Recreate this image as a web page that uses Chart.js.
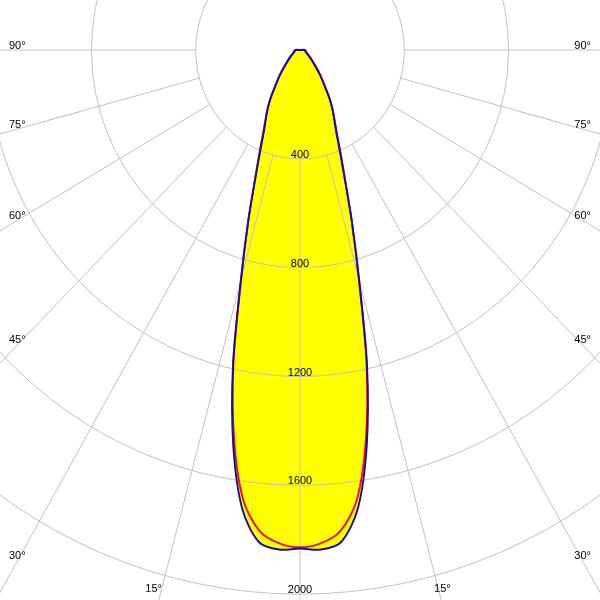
<!DOCTYPE html>
<html><head><meta charset="utf-8">
<script src="https://cdn.jsdelivr.net/npm/chart.js@4.4.1/dist/chart.umd.min.js"></script>
<style>
html,body{margin:0;padding:0;background:#fff;}
#wrap{position:relative;width:600px;height:600px;overflow:hidden;background:#fff;}
#c{position:absolute;}
</style></head><body>
<div id="wrap"><canvas id="c"></canvas></div>
<script>
// gamma angles (degrees from nadir) for one half plane
const gammaDeg = [0,2.5,5,7.5,10,12.5,15,17.5,20,22.5,25,27.5,30,32.5,35,37.5,40,42.5,45,47.5,
  50,52.5,55,57.5,60,62.5,65,67.5,70,72.5,75,77.5,80,82.5,85,87.5,90,92.5,95,97.5,
  100,102.5,105,107.5,110,112.5,115,117.5,120,122.5,125,127.5,130,132.5,135,137.5,140,142.5,145,147.5,
  150,152.5,155,157.5,160,162.5,165,167.5,170,172.5,175,177.5,180];
// C0-C180 plane (blue), cd
const c180 = [1832,1838,1815,1700,1475,1188,878,662,500,396,326,283,248,211,172,144,122,102,85,72,
  62,54,48,43,38,34,31,29,27,25,24,23,22,22,21,20,19,12,5,1,
  0,0,0,0,0,0,0,0,0,0,0,0,0,0,0,0,0,0,0,0,0,0,0,0,0,0,0,0,0,0,0,0,0];
const c0 = [1832,1838,1815,1700,1475,1188,878,662,500,396,326,283,248,211,172,144,122,102,85,72,
  62,54,48,43,38,34,31,29,27,25,24,23,22,22,21,20,19,12,5,1,
  0,0,0,0,0,0,0,0,0,0,0,0,0,0,0,0,0,0,0,0,0,0,0,0,0,0,0,0,0,0,0,0,0];
// C90-C270 plane (red), cd
const c270 = [1828,1815,1775,1668,1455,1180,872,662,505,405,334,286,248,209,169,140,118,98,80,68,
  58,50,44,39,34,31,28,26,24,22,21,20,19,19,18,17,16,10,4,1,
  0,0,0,0,0,0,0,0,0,0,0,0,0,0,0,0,0,0,0,0,0,0,0,0,0,0,0,0,0,0,0,0,0];
const c90 = [1828,1815,1775,1668,1455,1180,872,662,505,405,334,286,248,209,169,140,118,98,80,68,
  58,50,44,39,34,31,28,26,24,22,21,20,19,19,18,17,16,10,4,1,
  0,0,0,0,0,0,0,0,0,0,0,0,0,0,0,0,0,0,0,0,0,0,0,0,0,0,0,0,0,0,0,0,0];
const tickValues = [400,800,1200,1600,2000];
const angleMarks = [15,30,45,60,75,90];
const scaleMax = 2400;
const scaleStep = 400;

const N = (gammaDeg.length - 1) * 2;
const labels = [], blue = [], red = [];
for (let i = 0; i < N; i++) {
  if (i < gammaDeg.length) { labels.push(gammaDeg[i] + '°'); blue.push(c180[i]); red.push(c270[i]); }
  else { const k = N - i; labels.push('-' + gammaDeg[k] + '°'); blue.push(c0[k]); red.push(c90[k]); }
}
const angleIdx = [];
angleMarks.forEach(m => { const i = gammaDeg.indexOf(m); angleIdx.push(i, N - i); });
angleIdx.push(0);

const SIZE = 1306, PCX = 300, PCY = 50, SX = 0.958;
const GRID = '#c0c0c0';
const cv = document.getElementById('c');
cv.width = SIZE; cv.height = SIZE;
cv.style.width = SIZE + 'px'; cv.style.height = SIZE + 'px';
cv.style.left = (PCX - SIZE / 2) + 'px'; cv.style.top = (PCY - SIZE / 2) + 'px';

const polarFrame = {
  id: 'polarFrame',
  beforeRender(chart) {
    const s = chart.scales.r;
    chart.ctx.setTransform(SX, 0, 0, 1, s.xCenter * (1 - SX), 0);
  },
  beforeDatasetsDraw(chart) {
    const s = chart.scales.r, ctx = chart.ctx;
    ctx.save();
    ctx.strokeStyle = GRID; ctx.lineWidth = 1;
    angleIdx.forEach(i => {
      const a = s.getPointPositionForValue(i, tickValues[0]);
      const b = s.getPointPositionForValue(i, scaleMax);
      ctx.beginPath(); ctx.moveTo(a.x, a.y); ctx.lineTo(b.x, b.y); ctx.stroke();
    });
    ctx.restore();
  },
  afterDraw(chart) {
    const s = chart.scales.r, ctx = chart.ctx;
    ctx.setTransform(1, 0, 0, 1, 0, 0);
    const xc = s.xCenter, yc = s.yCenter;
    const ox = xc - PCX, oy = yc - PCY;
    ctx.save();
    ctx.font = '11px "Liberation Sans", Arial, sans-serif';
    ctx.fillStyle = '#000';
    ctx.textBaseline = 'alphabetic';
    // intensity labels along nadir
    ctx.textAlign = 'center';
    tickValues.forEach(v => {
      ctx.fillText(String(v), xc, yc + s.getDistanceFromCenterForValue(v) - 1);
    });
    // angle labels at frame edges
    angleMarks.forEach(m => {
      const iL = gammaDeg.indexOf(m);
      [iL, N - iL].forEach((idx, side) => {
        const p = s.getPointPositionForValue(idx, scaleMax);
        const dx = (p.x - xc) * SX, dy = p.y - yc;
        const tx = side === 0 ? ox + 18 : ox + 582;
        const tSide = (tx - xc) / dx;
        const tBot = dy > 1e-6 ? (oy + 588 - yc) / dy : Infinity;
        if (tBot < tSide) {
          const x = xc + tBot * dx;
          ctx.textAlign = side === 0 ? 'right' : 'left';
          ctx.fillText(m + '°', side === 0 ? x : x - 4, oy + 592);
        } else {
          const y = yc + tSide * dy;
          ctx.textAlign = side === 0 ? 'left' : 'right';
          ctx.fillText(m + '°', side === 0 ? ox + 9 : ox + 591, y - 1);
        }
      });
    });
    ctx.restore();
  }
};

new Chart(cv, {
  type: 'radar',
  data: {
    labels: labels,
    datasets: [
      { label: 'C0-C180', data: blue, borderColor: '#1010a8', backgroundColor: '#ffff00', borderWidth: 2, fill: 'origin' },
      { label: 'C90-C270', data: red, borderColor: '#e8101c', backgroundColor: '#ffff00', borderWidth: 2, fill: 'origin' }
    ]
  },
  options: {
    responsive: false,
    devicePixelRatio: 1,
    animation: false,
    events: [],
    layout: { padding: 0 },
    elements: { point: { radius: 0 }, line: { tension: 0.3 } },
    plugins: { legend: { display: false }, tooltip: { enabled: false }, filler: { drawTime: 'beforeDraw' } },
    scales: {
      r: {
        startAngle: 180,
        min: 0, max: scaleMax,
        ticks: { display: false, stepSize: scaleStep },
        pointLabels: { display: false },
        angleLines: { display: false },
        grid: { circular: true, color: GRID, lineWidth: 1 }
      }
    }
  },
  plugins: [polarFrame]
});
</script>
</body></html>
